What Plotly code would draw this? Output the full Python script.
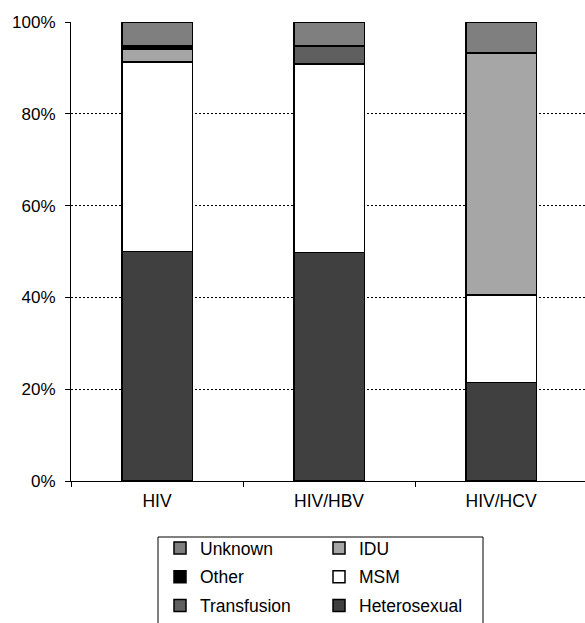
import plotly.graph_objects as go

categories = ["HIV", "HIV/HBV", "HIV/HCV"]
heterosexual = [50.0, 49.8, 21.5]
msm = [41.3, 41.0, 19.0]
transfusion = [0.0, 4.0, 0.0]
idu = [2.8, 0.0, 52.8]
other = [0.7, 0.0, 0.0]
unknown = [5.2, 5.2, 6.7]
y_ticks = [0, 20, 40, 60, 80, 100]
y_tick_labels = ["0%", "20%", "40%", "60%", "80%", "100%"]

# name, values, colour, legend column, rank within the column
series = [
    ("Heterosexual", heterosexual, "#404040", "legend2", 3),
    ("MSM", msm, "#ffffff", "legend2", 2),
    ("Transfusion", transfusion, "#5f5f5f", "legend", 3),
    ("IDU", idu, "#a6a6a6", "legend2", 1),
    ("Other", other, "#000000", "legend", 2),
    ("Unknown", unknown, "#7f7f7f", "legend", 1),
]

FONT = "Liberation Sans, Arial, sans-serif"

fig = go.Figure()
for name, vals, color, leg, rank in series:
    fig.add_trace(go.Bar(
        x=categories, y=vals, name=name, legend=leg, legendgroup=name,
        legendrank=rank,
        marker=dict(color=color, line=dict(color="#000000", width=1.5)),
        width=0.41,
    ))

W, H = 585, 623
L, R, T, B = 71, 0, 22, 142
ph = H - T - B
pw = W - L - R

def px_to_paper_y(p):
    return (H - B - p) / ph

def px_to_paper_x(p):
    return (p - L) / pw

fig.update_layout(
    template="none",
    width=W, height=H,
    margin=dict(l=L, r=R, t=T, b=B, autoexpand=False),
    barmode="stack",
    plot_bgcolor="white", paper_bgcolor="white",
    font=dict(family=FONT, size=17, color="#000000"),
    xaxis=dict(
        type="category", range=[-0.5, 2.488], tickson="boundaries",
        ticks="outside", ticklen=5, tickcolor="#000000", tickwidth=1,
        showline=True, linecolor="#000000", linewidth=1,
        showgrid=False, tickfont=dict(size=17.5, family=FONT),
        ticklabelstandoff=4, automargin=False,
    ),
    yaxis=dict(
        range=[0, 100], tickvals=y_ticks, ticktext=y_tick_labels,
        ticks="outside", ticklen=5, tickcolor="#000000", tickwidth=1,
        showline=True, linecolor="#000000", linewidth=1,
        showgrid=True, gridcolor="#000000", gridwidth=1, griddash="2px,2px",
        zeroline=False, tickfont=dict(size=17, family=FONT),
        ticklabelstandoff=6, automargin=False,
    ),
    legend=dict(
        x=px_to_paper_x(160), xanchor="left",
        yref="container", y=1 - 530 / H, yanchor="top",
        traceorder="grouped", tracegroupgap=3,
        font=dict(size=17.5, family=FONT), bgcolor="rgba(0,0,0,0)",
    ),
    legend2=dict(
        x=px_to_paper_x(319), xanchor="left",
        yref="container", y=1 - 530 / H, yanchor="top",
        traceorder="grouped", tracegroupgap=3,
        font=dict(size=17.5, family=FONT), bgcolor="rgba(0,0,0,0)",
    ),
    shapes=[dict(
        type="rect", xref="paper", yref="paper",
        x0=px_to_paper_x(158), x1=px_to_paper_x(483),
        y0=px_to_paper_y(640), y1=px_to_paper_y(537),
        line=dict(color="#000000", width=1), fillcolor="rgba(0,0,0,0)",
        layer="above",
    )],
)

fig.write_html(
    "out.html",
    config={"displayModeBar": False},
    post_script="document.body.style.margin='0';document.body.style.overflow='hidden';",
)
